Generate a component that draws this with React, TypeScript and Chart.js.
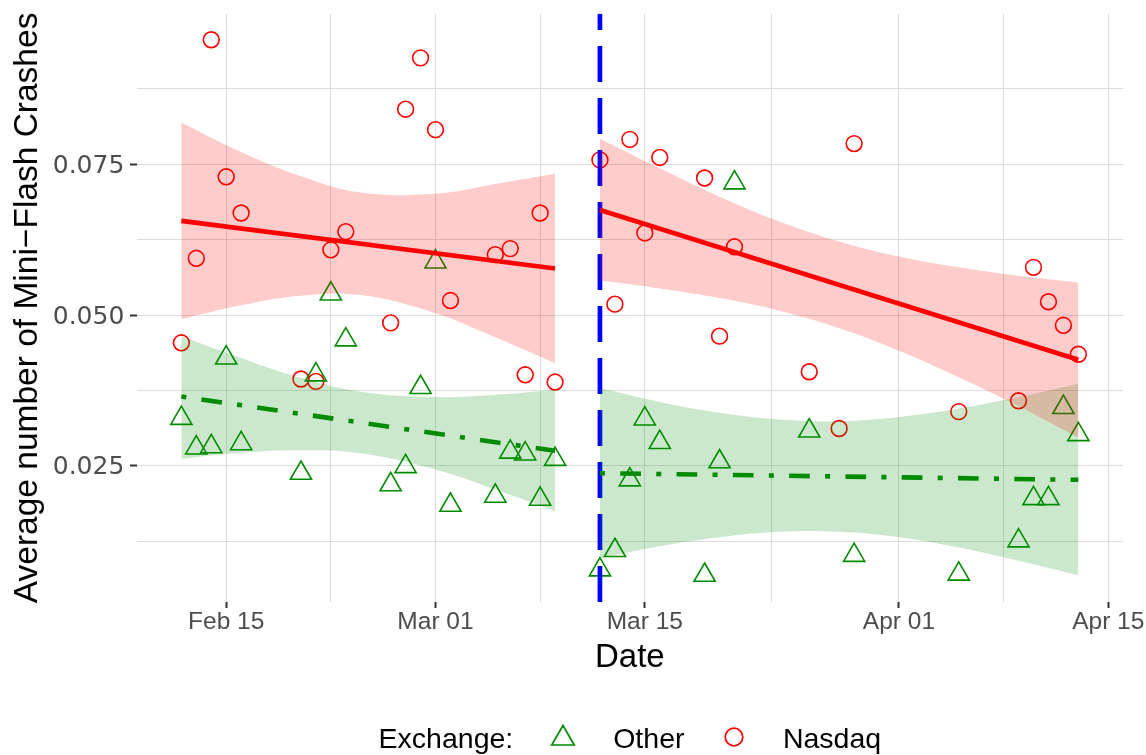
import React, { useEffect, useRef } from "react";
import { Chart, registerables } from "chart.js";

Chart.register(...registerables);

// ---------- data ----------
const dates = [
  "2018-02-12", "2018-02-13", "2018-02-14", "2018-02-15", "2018-02-16",
  "2018-02-20", "2018-02-21", "2018-02-22", "2018-02-23",
  "2018-02-26", "2018-02-27", "2018-02-28", "2018-03-01", "2018-03-02",
  "2018-03-05", "2018-03-06", "2018-03-07", "2018-03-08", "2018-03-09",
  "2018-03-12", "2018-03-13", "2018-03-14", "2018-03-15", "2018-03-16",
  "2018-03-19", "2018-03-20", "2018-03-21", "2018-03-26", "2018-03-28", "2018-03-29",
  "2018-04-05", "2018-04-09", "2018-04-10", "2018-04-11", "2018-04-12", "2018-04-13",
];
const nasdaq = [
  0.0454, 0.0594, 0.0956, 0.0729, 0.0669,
  0.0394, 0.039, 0.0608, 0.0638,
  0.0487, 0.0841, 0.0926, 0.0807, 0.0524,
  0.06, 0.061, 0.0401, 0.0669, 0.0389,
  0.0757, 0.0518, 0.0791, 0.0636, 0.0761,
  0.0727, 0.0465, 0.0613, 0.0406, 0.0312, 0.0784,
  0.034, 0.0358, 0.0579, 0.0522, 0.0483, 0.0435,
];
const other = [
  0.0329, 0.028, 0.0282, 0.0429, 0.0287,
  0.0238, 0.0401, 0.0535, 0.0459,
  0.0219, 0.0249, 0.038, 0.0588, 0.0185,
  0.02, 0.0273, 0.027, 0.0195, 0.0261,
  0.0078, 0.011, 0.0227, 0.0328, 0.0289,
  0.0069, 0.0257, 0.0719, 0.0308, null, 0.0102,
  0.0071, 0.0126, 0.0196, 0.0196, 0.0347, 0.0302,
];

// fitted lines (linear fits before / after the event)
const fitDatesLeft = ["2018-02-12", "2018-03-09"];
const nasdaqFitLeft = [0.0656, 0.0577];
const otherFitLeft = [0.0365, 0.0275];
const fitDatesRight = ["2018-03-12", "2018-04-13"];
const nasdaqFitRight = [0.0674, 0.0426];
const otherFitRight = [0.0238, 0.0227];

// confidence bands
const bandDatesLeft = ["2018-02-12", "2018-02-16", "2018-02-20", "2018-02-24", "2018-03-01", "2018-03-05", "2018-03-09"];
const nasdaqUpperLeft = [0.0819, 0.077, 0.073, 0.0703, 0.0701, 0.0717, 0.0734];
const nasdaqLowerLeft = [0.0493, 0.0516, 0.0532, 0.0533, 0.0503, 0.0463, 0.042];
const otherUpperLeft = [0.0465, 0.0429, 0.0396, 0.0373, 0.0364, 0.0368, 0.0376];
const otherLowerLeft = [0.0262, 0.0272, 0.0276, 0.0271, 0.0244, 0.0211, 0.0175];
const bandDatesRight = ["2018-03-12", "2018-03-16", "2018-03-20", "2018-03-24", "2018-03-28", "2018-04-01", "2018-04-05", "2018-04-09", "2018-04-13"];
const nasdaqUpperRight = [0.0792, 0.0743, 0.0696, 0.0655, 0.0622, 0.0597, 0.0579, 0.0565, 0.0554];
const nasdaqLowerRight = [0.0557, 0.0544, 0.0528, 0.0507, 0.0478, 0.0441, 0.0397, 0.0349, 0.0297];
const otherUpperRight = [0.0379, 0.0356, 0.0338, 0.0327, 0.0324, 0.0331, 0.0345, 0.0364, 0.0386];
const otherLowerRight = [0.0097, 0.0117, 0.0132, 0.0141, 0.0141, 0.0132, 0.0115, 0.0093, 0.0069];

const eventDate = "2018-03-12";

// axes
const xRange = ["2018-02-09", "2018-04-16"];
const xMajorDates = ["2018-02-15", "2018-03-01", "2018-03-15", "2018-04-01", "2018-04-15"];
const xMajorLabels = ["Feb 15", "Mar 01", "Mar 15", "Apr 01", "Apr 15"];
const xMinorDates = ["2018-02-22", "2018-03-08", "2018-03-23T12:00:00Z", "2018-04-08"];
const yRange = [0.00246, 0.0999];
const yMajor = [0.025, 0.05, 0.075];
const yMajorLabels = ["0.025", "0.050", "0.075"];
const yMinor = [0.0125, 0.0375, 0.0625, 0.0875];

const xTitle = "Date";
const yTitle = "Average number of Mini\u2212Flash Crashes";
const legendTitle = "Exchange:";
const seriesNames = ["Other", "Nasdaq"];

// ---------- helpers ----------
const day = (s: string) =>
  Date.parse(s.length === 10 ? s + "T00:00:00Z" : s) / 86400000;
const pts = (ds: string[], vs: (number | null)[]) =>
  ds
    .map((d, i) => ({ x: day(d), y: vs[i] }))
    .filter((p) => p.y !== null && p.y !== undefined);

const RED = "#FF0000";
const GREEN = "#008B00";
const BLUE = "#0000FF";
const RED_FILL = "rgba(255,0,0,0.2)";
const GREEN_FILL = "rgba(0,139,0,0.2)";
const CLEAR = "rgba(0,0,0,0)";
const DOTDASH = [5, 15.3, 20.7, 15.3];

const near = (a: number, arr: number[]) => arr.some((b) => Math.abs(a - b) < 1e-6);

export default function App() {
  const ref = useRef<HTMLCanvasElement | null>(null);

  useEffect(() => {
    const canvas = ref.current;
    if (!canvas) return;
    const xMajorVals = xMajorDates.map(day);
    const xMinorVals = xMinorDates.map(day);

    const fitLine = (ds: string[], vs: number[], color: string, dash: number[]) => ({
      type: "line" as const,
      data: pts(ds, vs),
      borderColor: color,
      borderWidth: 4.6,
      borderDash: dash,
      borderCapStyle: "butt" as const,
      pointRadius: 0,
      fill: false,
      tension: 0,
    });
    const bandUpper = (ds: string[], vs: number[], fillColor: string) => ({
      type: "line" as const,
      data: pts(ds, vs),
      borderColor: CLEAR,
      borderWidth: 0,
      backgroundColor: fillColor,
      pointRadius: 0,
      fill: "+1",
      tension: 0.4,
    });
    const bandLower = (ds: string[], vs: number[]) => ({
      type: "line" as const,
      data: pts(ds, vs),
      borderColor: CLEAR,
      borderWidth: 0,
      pointRadius: 0,
      fill: false,
      tension: 0.4,
    });

    const legendPlugin = {
      id: "bottomLegend",
      afterDraw(chart: any) {
        const ctx = chart.ctx as CanvasRenderingContext2D;
        ctx.save();
        ctx.font = '28.5px "Liberation Sans", Arial, sans-serif';
        ctx.fillStyle = "#000000";
        ctx.textAlign = "left";
        ctx.textBaseline = "alphabetic";
        ctx.fillText(legendTitle, 378.6, 748);
        ctx.fillText(seriesNames[0], 613.2, 748);
        ctx.fillText(seriesNames[1], 782.9, 748);
        // triangle key
        const r = 13;
        const cx = 563, cy = 738.5;
        ctx.beginPath();
        for (let k = 0; k < 3; k++) {
          const a = (k * 2 * Math.PI) / 3;
          const px = cx + Math.sin(a) * r;
          const py = cy - Math.cos(a) * r;
          if (k === 0) ctx.moveTo(px, py);
          else ctx.lineTo(px, py);
        }
        ctx.closePath();
        ctx.strokeStyle = GREEN;
        ctx.lineWidth = 1.7;
        ctx.stroke();
        // circle key
        ctx.beginPath();
        ctx.arc(734, 737, 8.8, 0, Math.PI * 2);
        ctx.strokeStyle = RED;
        ctx.stroke();
        ctx.restore();
      },
    };

    const chart = new Chart(canvas, {
      type: "line",
      data: {
        datasets: [
          fitLine(fitDatesLeft, nasdaqFitLeft, RED, []),
          fitLine(fitDatesRight, nasdaqFitRight, RED, []),
          fitLine(fitDatesLeft, otherFitLeft, GREEN, DOTDASH),
          fitLine(fitDatesRight, otherFitRight, GREEN, DOTDASH),
          bandUpper(bandDatesLeft, nasdaqUpperLeft, RED_FILL),
          bandLower(bandDatesLeft, nasdaqLowerLeft),
          bandUpper(bandDatesRight, nasdaqUpperRight, RED_FILL),
          bandLower(bandDatesRight, nasdaqLowerRight),
          bandUpper(bandDatesLeft, otherUpperLeft, GREEN_FILL),
          bandLower(bandDatesLeft, otherLowerLeft),
          bandUpper(bandDatesRight, otherUpperRight, GREEN_FILL),
          bandLower(bandDatesRight, otherLowerRight),
          {
            type: "line",
            data: [
              { x: day(eventDate), y: yRange[0] },
              { x: day(eventDate), y: yRange[1] },
            ],
            borderColor: BLUE,
            borderWidth: 4.7,
            borderDash: [36, 16],
            borderCapStyle: "butt",
            pointRadius: 0,
            fill: false,
          },
          {
            type: "line",
            label: seriesNames[0],
            data: pts(dates, other),
            showLine: false,
            pointStyle: "triangle",
            pointRadius: 12.2,
            pointBorderWidth: 1.6,
            pointBorderColor: GREEN,
            pointBackgroundColor: CLEAR,
            borderColor: GREEN,
            backgroundColor: CLEAR,
          },
          {
            type: "line",
            label: seriesNames[1],
            data: pts(dates, nasdaq),
            showLine: false,
            pointStyle: "circle",
            pointRadius: 7.9,
            pointBorderWidth: 1.6,
            pointBorderColor: RED,
            pointBackgroundColor: CLEAR,
            borderColor: RED,
            backgroundColor: CLEAR,
          },
        ] as any,
      },
      options: {
        responsive: false,
        devicePixelRatio: 1,
        animation: false,
        events: [],
        layout: { padding: { left: 0, right: 22.8, top: 11, bottom: 73 } },
        plugins: {
          legend: { display: false },
          tooltip: { enabled: false },
          title: { display: false },
        },
        scales: {
          x: {
            type: "linear",
            min: day(xRange[0]),
            max: day(xRange[1]),
            afterBuildTicks: (s: any) => {
              s.ticks = [...xMajorVals, ...xMinorVals]
                .sort((a, b) => a - b)
                .map((v) => ({ value: v }));
            },
            afterFit: (s: any) => {
              s.height = 80;
              s.paddingLeft = 0;
              s.paddingRight = 0;
            },
            ticks: {
              autoSkip: false,
              maxRotation: 0,
              minRotation: 0,
              padding: 0,
              color: "#4D4D4D",
              font: { family: '"Liberation Sans", Arial, sans-serif', size: 24.5 },
              callback: (v: any) => {
                const i = xMajorVals.findIndex((m) => Math.abs(m - v) < 1e-6);
                return i >= 0 ? xMajorLabels[i] : "";
              },
            },
            grid: {
              color: "#DCDCDC",
              lineWidth: 1,
              drawTicks: true,
              tickLength: 6,
              tickWidth: 2,
              tickColor: (c: any) => (c.tick && near(c.tick.value, xMajorVals) ? "#333333" : CLEAR),
            },
            border: { display: false },
            title: {
              display: true,
              text: xTitle,
              color: "#000000",
              font: { family: '"Liberation Sans", Arial, sans-serif', size: 33 },
              padding: { top: 0, bottom: 4.6 },
            },
          },
          y: {
            type: "linear",
            min: yRange[0],
            max: yRange[1],
            afterBuildTicks: (s: any) => {
              s.ticks = [...yMajor, ...yMinor]
                .sort((a, b) => a - b)
                .map((v) => ({ value: v }));
            },
            afterFit: (s: any) => {
              s.width = 136.5;
              s.paddingTop = 0;
              s.paddingBottom = 0;
            },
            ticks: {
              autoSkip: false,
              padding: 5.7,
              labelOffset: 2,
              color: "#4D4D4D",
              font: { family: '"DejaVu Sans", sans-serif', size: 25 },
              callback: (v: any) => {
                const i = yMajor.findIndex((m) => Math.abs(m - v) < 1e-9);
                return i >= 0 ? yMajorLabels[i] : "";
              },
            },
            grid: {
              color: "#DCDCDC",
              lineWidth: 1,
              drawTicks: true,
              tickLength: 6.5,
              tickWidth: 2,
              tickColor: (c: any) => (c.tick && near(c.tick.value, yMajor) ? "#333333" : CLEAR),
            },
            border: { display: false },
            title: {
              display: true,
              text: yTitle,
              color: "#000000",
              font: { family: '"Liberation Sans", Arial, sans-serif', size: 33.5 },
              padding: { top: 7.3, bottom: 0 },
            },
          },
        },
      } as any,
      plugins: [legendPlugin],
    });

    return () => chart.destroy();
  }, []);

  return (
    <div style={{ position: "fixed", left: 0, top: 0, width: 1146, height: 755, background: "#ffffff" }}>
      <canvas ref={ref} width={1146} height={755} style={{ display: "block", width: 1146, height: 755 }} />
    </div>
  );
}
